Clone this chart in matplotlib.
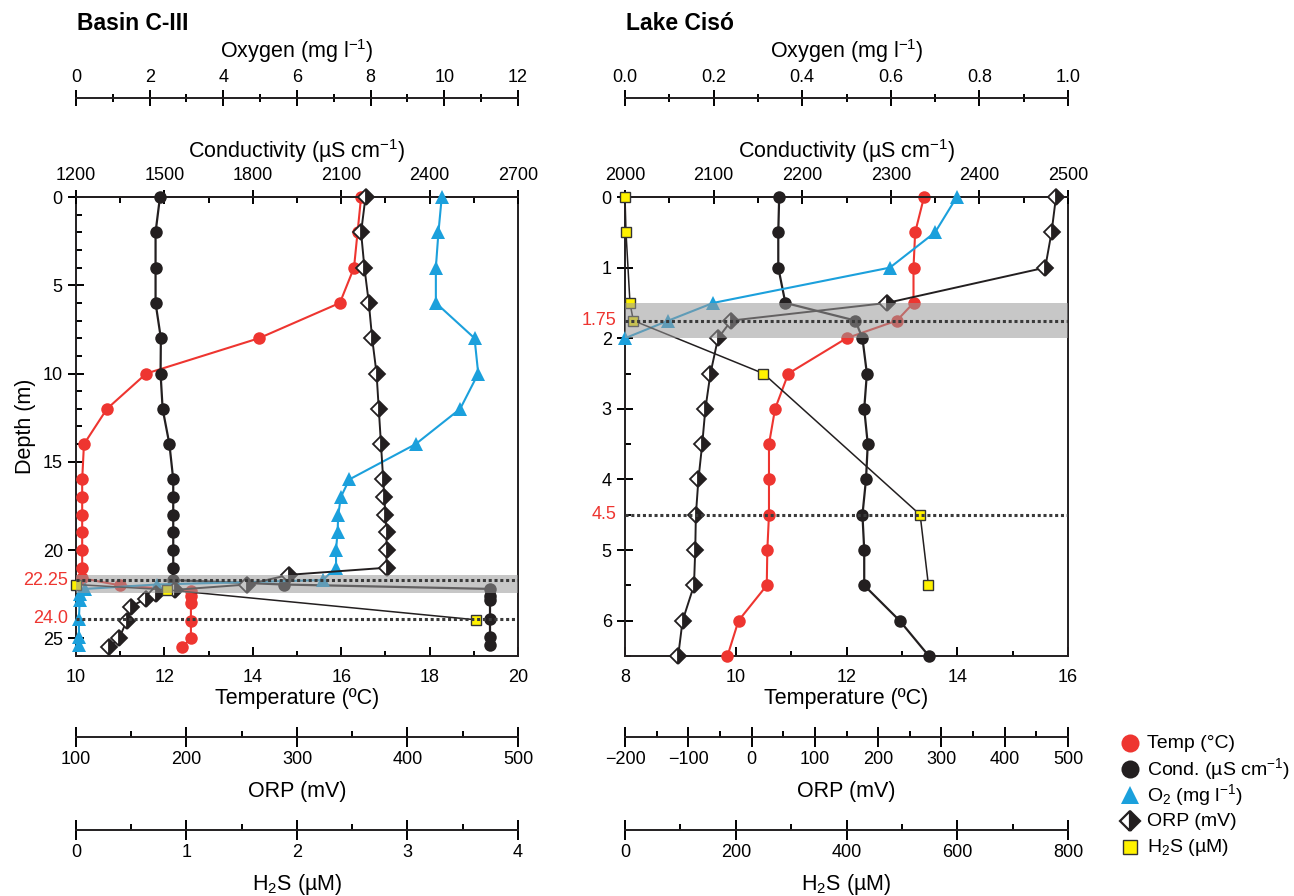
import matplotlib
matplotlib.use('Agg')
import matplotlib.pyplot as plt
from matplotlib.lines import Line2D
from matplotlib.ticker import MultipleLocator

plt.rcParams['font.family'] = ['Liberation Sans', 'DejaVu Sans']
plt.rcParams['mathtext.fontset'] = 'custom'
plt.rcParams['mathtext.rm'] = 'Liberation Sans'
plt.rcParams['mathtext.it'] = 'Liberation Sans:italic'
plt.rcParams['mathtext.bf'] = 'Liberation Sans:bold'

# ---- Basin C-III profiles ----
b_temp_depth = [0, 2, 4, 6, 8, 10, 12, 14, 16, 17, 18, 19, 20, 21, 21.6, 22.0, 22.3, 22.6, 23.0, 24.0, 25.0, 25.5]
b_temp = [16.45, 16.37, 16.29, 15.97, 14.14, 11.59, 10.70, 10.18, 10.14, 10.14, 10.14, 10.14, 10.14, 10.14,
          10.14, 11.0, 12.6, 12.6, 12.6, 12.6, 12.6, 12.4]
b_cond_depth = [0, 2, 4, 6, 8, 10, 12, 14, 16, 17, 18, 19, 20, 21, 21.7, 21.95, 22.2, 22.6, 22.85, 23.9, 24.9, 25.4]
b_cond = [1485, 1470, 1470, 1470, 1488, 1487, 1494, 1517, 1530, 1530, 1530, 1530, 1530, 1530,
          1528, 1905, 2605, 2605, 2605, 2605, 2605, 2605]
b_o2_depth = [0, 2, 4, 6, 8, 10, 12, 14, 16, 17, 18, 19, 20, 21, 21.7, 21.95, 22.2, 22.5, 22.8, 23.9, 24.9, 25.4]
b_o2 = [9.93, 9.84, 9.77, 9.77, 10.82, 10.92, 10.43, 9.22, 7.42, 7.19, 7.12, 7.10, 7.06, 7.06,
        6.7, 2.2, 0.25, 0.1, 0.1, 0.08, 0.08, 0.08]
b_orp_depth = [0, 2, 4, 6, 8, 10, 12, 14, 16, 17, 18, 19, 20, 21, 21.4, 21.95, 22.25, 22.5, 22.75, 23.2, 24.0,
               25.0, 25.5]
b_orp = [362, 358, 361, 365, 368, 372, 374, 376, 378, 379, 380, 381, 381, 381, 293, 255, 190, 172, 163, 150,
         146, 139, 130]
b_h2s_depth = [21.95, 22.25, 23.95]
b_h2s = [0.0, 0.82, 3.62]
b_band = (21.4, 22.45)
b_lines = [21.7, 23.9]
b_line_labels = ['22.25', '24.0']

# ---- Lake Ciso profiles ----
c_depth = [0, 0.5, 1, 1.5, 1.75, 2, 2.5, 3, 3.5, 4, 4.5, 5, 5.5, 6, 6.5]
c_temp = [13.40, 13.24, 13.21, 13.21, 12.91, 12.0, 10.95, 10.71, 10.60, 10.60, 10.60, 10.57, 10.56, 10.05, 9.85]
c_cond = [2174, 2173, 2173, 2181, 2260, 2268, 2273, 2270, 2274, 2272, 2268, 2270, 2270, 2310, 2343]
c_orp = [481, 474, 464, 214, -32, -53, -65, -73, -78, -84, -88, -89, -91, -109, -116]
c_o2_depth = [0, 0.5, 1, 1.5, 1.75, 2]
c_o2 = [0.749, 0.70, 0.598, 0.199, 0.098, 0.0]
c_h2s_depth = [0, 0.5, 1.5, 1.75, 2.5, 4.5, 5.5]
c_h2s = [0, 1.8, 9, 15, 250, 533, 548]
c_band = (1.5, 2.0)
c_lines = [1.75, 4.5]
c_line_labels = ['1.75', '4.5']

legend_labels = ['Temp (°C)', 'Cond. (µS cm$^{-1}$)', 'O$_2$ (mg l$^{-1}$)', 'ORP (mV)', 'H$_2$S (µM)']

RED = '#ee3530'
BLACK = '#231f20'
BLUE = '#1ba0dc'
YELLOW = '#fff200'
LABEL_RED = '#ee3530'

TICK_FS = 13
LABEL_FS = 15.5
SPINE_LW = 1.4

fig = plt.figure(figsize=(12.94, 8.96), dpi=100)


def only_spine(a, keep):
    for name, sp in a.spines.items():
        sp.set_visible(name == keep)
        sp.set_linewidth(SPINE_LW)
        sp.set_color(BLACK)


def draw_panel(rect, title, temp_lim, temp_step, cond_lim, cond_step, o2_lim, o2_step,
               orp_lim, orp_step, h2s_lim, h2s_step, depth_max, depth_step, depth_minor,
               data, band, lines, line_labels, depth_label):
    ax = fig.add_axes(rect)
    ax.set_xlim(*temp_lim)
    ax.set_ylim(depth_max, 0)
    for sp in ax.spines.values():
        sp.set_linewidth(SPINE_LW)
        sp.set_color(BLACK)
    ax.xaxis.set_major_locator(MultipleLocator(temp_step))
    ax.xaxis.set_minor_locator(MultipleLocator(temp_step / 2))
    ax.yaxis.set_major_locator(MultipleLocator(depth_step))
    ax.yaxis.set_minor_locator(MultipleLocator(depth_minor))
    ax.tick_params(axis='x', which='major', direction='in', length=6.5, width=SPINE_LW, pad=9,
                   labelsize=TICK_FS, top=False)
    ax.tick_params(axis='x', which='minor', direction='in', length=3.5, width=SPINE_LW, top=False)
    ax.tick_params(axis='y', which='major', direction='inout', length=11, width=SPINE_LW, pad=4,
                   labelsize=TICK_FS, right=False)
    ax.tick_params(axis='y', which='minor', direction='in', length=4, width=SPINE_LW, right=False)
    ax.set_xlabel('Temperature (ºC)', fontsize=LABEL_FS, labelpad=2)
    if depth_label:
        ax.set_ylabel('Depth (m)', fontsize=LABEL_FS, labelpad=5)

    # conductivity on the top spine
    ax_c = ax.twiny()
    ax_c.set_xlim(*cond_lim)
    only_spine(ax_c, 'top')
    ax_c.xaxis.set_major_locator(MultipleLocator(cond_step))
    ax_c.xaxis.set_minor_locator(MultipleLocator(cond_step / 2))
    ax_c.tick_params(axis='x', which='major', direction='inout', length=10, width=SPINE_LW, pad=4,
                     labelsize=TICK_FS)
    ax_c.tick_params(axis='x', which='minor', direction='in', length=4, width=SPINE_LW)
    ax_c.set_xlabel('Conductivity (µS cm$^{-1}$)', fontsize=LABEL_FS, labelpad=7)

    # oxygen axis detached above
    ax_o = ax.twiny()
    ax_o.set_xlim(*o2_lim)
    only_spine(ax_o, 'top')
    ax_o.spines['top'].set_position(('outward', 71))
    ax_o.xaxis.set_major_locator(MultipleLocator(o2_step))
    ax_o.xaxis.set_minor_locator(MultipleLocator(o2_step / 2))
    ax_o.tick_params(axis='x', which='major', direction='inout', length=12, width=SPINE_LW, pad=3,
                     labelsize=TICK_FS)
    ax_o.tick_params(axis='x', which='minor', direction='inout', length=6, width=SPINE_LW)
    ax_o.set_xlabel('Oxygen (mg l$^{-1}$)', fontsize=LABEL_FS, labelpad=8)

    # ORP axis detached below
    ax_r = ax.twiny()
    ax_r.set_xlim(*orp_lim)
    only_spine(ax_r, 'bottom')
    ax_r.xaxis.set_ticks_position('bottom')
    ax_r.xaxis.set_label_position('bottom')
    ax_r.spines['bottom'].set_position(('outward', 58))
    ax_r.xaxis.set_major_locator(MultipleLocator(orp_step))
    ax_r.xaxis.set_minor_locator(MultipleLocator(orp_step / 2))
    ax_r.tick_params(axis='x', which='major', direction='inout', length=14, width=SPINE_LW, pad=3.5,
                     labelsize=TICK_FS)
    ax_r.tick_params(axis='x', which='minor', direction='in', length=4.5, width=SPINE_LW)
    ax_r.set_xlabel('ORP (mV)', fontsize=LABEL_FS, labelpad=9)

    # H2S axis detached further below
    ax_h = ax.twiny()
    ax_h.set_xlim(*h2s_lim)
    only_spine(ax_h, 'bottom')
    ax_h.xaxis.set_ticks_position('bottom')
    ax_h.xaxis.set_label_position('bottom')
    ax_h.spines['bottom'].set_position(('outward', 125))
    ax_h.xaxis.set_major_locator(MultipleLocator(h2s_step))
    ax_h.xaxis.set_minor_locator(MultipleLocator(h2s_step / 2))
    ax_h.tick_params(axis='x', which='major', direction='inout', length=14, width=SPINE_LW, pad=3.5,
                     labelsize=TICK_FS)
    ax_h.tick_params(axis='x', which='minor', direction='in', length=4.5, width=SPINE_LW)
    ax_h.set_xlabel('H$_2$S (µM)', fontsize=LABEL_FS, labelpad=8)

    (t_d, t_v), (c_d, c_v), (o_d, o_v), (r_d, r_v), (h_d, h_v) = data

    ax_r.plot(r_v, r_d, color=BLACK, lw=1.4, marker='D', markersize=8, fillstyle='right',
              markerfacecolor=BLACK, markerfacecoloralt='white', markeredgecolor=BLACK,
              markeredgewidth=1.3, clip_on=False, zorder=3)
    ax_c.plot(c_v, c_d, color=BLACK, lw=1.6, marker='o', markersize=9, markeredgewidth=0,
              clip_on=False, zorder=3)
    ax_o.plot(o_v, o_d, color=BLUE, lw=1.5, marker='^', markersize=9.5, markeredgewidth=0,
              clip_on=False, zorder=3)
    ax.plot(t_v, t_d, color=RED, lw=1.5, marker='o', markersize=9, markeredgewidth=0,
            clip_on=False, zorder=3)
    ax_h.plot(h_v, h_d, color=BLACK, lw=1.1, marker='s', markersize=7.5, markerfacecolor=YELLOW,
              markeredgecolor='#333333', markeredgewidth=1.0, clip_on=False, zorder=3)

    # translucent band and dotted reference lines on top of everything
    ax_h.axhspan(band[0], band[1], color='#999999', alpha=0.55, lw=0, zorder=10)
    for d, lab in zip(lines, line_labels):
        ax_h.axhline(d, color='#3a3a3a', lw=2.2, dashes=(1, 0.9), zorder=11)
        ax.annotate(lab, xy=(0, d), xycoords=ax.get_yaxis_transform(), xytext=(-6, 0),
                    textcoords='offset points', ha='right', va='center', color=LABEL_RED,
                    fontsize=TICK_FS, annotation_clip=False)

    fig.text(rect[0] + 0.001, 1 - 23 / 896, title, fontsize=16.5, fontweight='bold', va='center', ha='left')
    return ax


bottom = 1 - 656 / 896
height = (656 - 197) / 896

draw_panel([76 / 1294, bottom, 442 / 1294, height], 'Basin C-III',
           (10, 20), 2, (1200, 2700), 300, (0, 12), 2, (100, 500), 100, (0, 4), 1,
           26, 5, 1,
           [(b_temp_depth, b_temp), (b_cond_depth, b_cond), (b_o2_depth, b_o2),
            (b_orp_depth, b_orp), (b_h2s_depth, b_h2s)],
           b_band, b_lines, b_line_labels, True)

draw_panel([625 / 1294, bottom, 443 / 1294, height], 'Lake Cisó',
           (8, 16), 2, (2000, 2500), 100, (0, 1.0), 0.2, (-200, 500), 100, (0, 800), 200,
           6.5, 1, 0.5,
           [(c_depth, c_temp), (c_depth, c_cond), (c_o2_depth, c_o2),
            (c_depth, c_orp), (c_h2s_depth, c_h2s)],
           c_band, c_lines, c_line_labels, False)

# shared legend, drawn row by row so the spacing stays even
legend_styles = [
    dict(marker='o', markersize=13, color=RED, markeredgewidth=0),
    dict(marker='o', markersize=13, color=BLACK, markeredgewidth=0),
    dict(marker='^', markersize=13, color=BLUE, markeredgewidth=0),
    dict(marker='D', markersize=10, fillstyle='right', markerfacecolor=BLACK, markerfacecoloralt='white',
         markeredgecolor=BLACK, markeredgewidth=1.6),
    dict(marker='s', markersize=10, markerfacecolor=YELLOW, markeredgecolor='#333333', markeredgewidth=1.0),
]
for i, (style, lab) in enumerate(zip(legend_styles, legend_labels)):
    y = 1 - (743 + i * 26) / 896
    fig.add_artist(Line2D([1130 / 1294], [y], linestyle='none', transform=fig.transFigure, **style))
    fig.text(1147 / 1294, y, lab, fontsize=14, va='center', ha='left')

fig.savefig('out.png', dpi=100)
